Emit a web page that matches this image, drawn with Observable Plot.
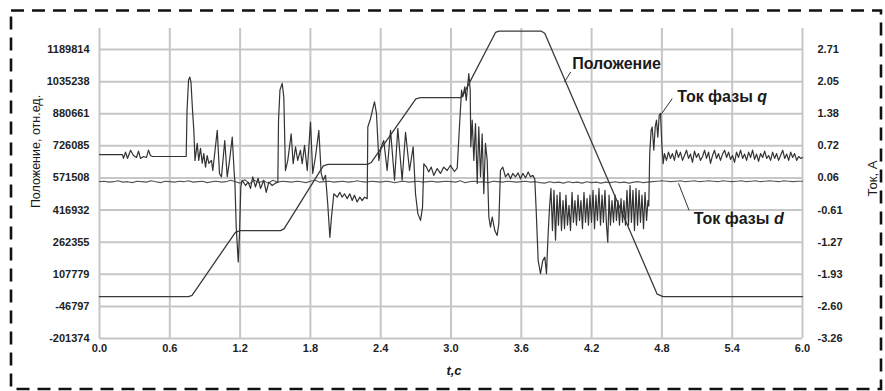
<!DOCTYPE html>
<html><head><meta charset="utf-8">
<script src="https://cdn.jsdelivr.net/npm/d3@7"></script>
<script src="https://cdn.jsdelivr.net/npm/@observablehq/plot@0.6"></script>
<style>
html,body{margin:0;padding:0;background:#fff;}
#wrap{position:relative;width:885px;height:391px;overflow:hidden;}
#wrap svg{position:absolute;left:0;top:0;}
</style></head><body><div id="wrap"></div>
<script>
// ---- tick values & labels ----
const xTicks = [0, 0.6, 1.2, 1.8, 2.4, 3.0, 3.6, 4.2, 4.8, 5.4, 6.0];
const xTickLabels = ["0.0","0.6","1.2","1.8","2.4","3.0","3.6","4.2","4.8","5.4","6.0"];
const posTicks = [-201374, -46797, 107779, 262355, 416932, 571508, 726085, 880661, 1035238, 1189814];
const curTicks = [-3.26, -2.60, -1.93, -1.27, -0.61, 0.06, 0.72, 1.38, 2.05, 2.71];
const curTickLabels = ["-3.26","-2.60","-1.93","-1.27","-0.61","0.06","0.72","1.38","2.05","2.71"];
const posMax = 1291000; // top of the plotting area (left axis units)

// ---- Положение (position), [t, value] ----
const position = [[0,0],[0.76,0],[0.79,6000],[1.16,310000],[1.20,318000],[1.545,318000],[1.575,326000],
  [1.91,630000],[1.95,637000],[2.287,637000],[2.32,646000],[2.70,952000],[2.74,958000],[3.081,958000],
  [3.10,968000],[3.38,1272000],[3.41,1278000],[3.772,1278000],[3.80,1268000],[4.76,12000],[4.81,0],[6.0,0]];

// ---- Ток фазы q, [t, A] ----
const currentQ = [
 [0,0.54],[0.196,0.54],[0.205,0.46],[0.222,0.59],[0.239,0.46],[0.265,0.63],[0.290,0.52],[0.316,0.48],[0.333,0.61],[0.350,0.46],[0.376,0.50],[0.401,0.48],[0.418,0.63],[0.435,0.52],[0.452,0.50],[0.740,0.50],
 [0.747,1.45],[0.760,2.08],[0.771,2.14],[0.781,2.03],[0.794,1.45],[0.805,1.04],[0.815,0.42],[0.834,0.77],[0.847,0.42],[0.862,0.67],[0.877,0.36],[0.890,0.56],[0.905,0.28],[0.919,0.52],[0.933,0.36],[0.956,0.42],[0.967,0.21],[1.005,1.04],[1.024,0.15],[1.041,0.08],[1.069,0.83],[1.090,0.08],[1.110,0.42],[1.133,0.90],[1.150,0.15],[1.155,0.01],[1.167,-0.96],[1.184,-1.68],[1.195,-1.09],[1.206,-0.13],[1.218,0.01],[1.246,-0.10],[1.269,-0.03],[1.289,-0.16],[1.308,0.08],[1.331,-0.13],[1.354,0.05],[1.374,-0.16],[1.402,0.01],[1.423,-0.24],[1.445,-0.03],[1.474,-0.10],[1.502,-0.05],[1.522,-0.03],
 [1.528,1.25],[1.540,1.87],[1.559,2.01],[1.573,1.73],[1.587,0.21],[1.607,0.42],[1.636,0.97],[1.653,0.35],[1.673,0.70],[1.692,0.42],[1.715,0.63],[1.730,0.35],[1.750,0.73],[1.773,0.21],[1.801,1.21],[1.820,0.15],[1.843,0.49],[1.872,1.04],[1.892,0.15],[1.909,0.01],[1.929,0.11],[1.948,-0.48],[1.966,-1.17],[1.980,-0.75],[2.000,-0.27],[2.029,-0.34],[2.051,-0.24],[2.071,-0.34],[2.091,-0.27],[2.114,-0.37],[2.136,-0.27],[2.157,-0.41],[2.176,-0.30],[2.199,-0.44],[2.222,-0.34],[2.242,-0.41],[2.262,-0.34],[2.285,-0.37],
 [2.290,1.11],[2.313,1.28],[2.336,1.52],[2.347,1.63],[2.364,1.39],[2.384,0.42],[2.404,0.70],[2.426,0.83],[2.455,0.21],[2.484,1.04],[2.518,0.01],[2.546,1.08],[2.583,0.01],[2.612,1.00],[2.646,0.21],[2.677,0.70],[2.697,-0.27],[2.717,-0.68],[2.740,-0.82],[2.757,-0.55],[2.768,0.35],[2.791,0.28],[2.810,0.18],[2.831,0.28],[2.853,0.11],[2.882,0.25],[2.910,0.15],[2.938,0.28],[2.967,0.21],[2.996,0.32],[3.004,0.28],[3.030,0.19],[3.053,0.26],
 [3.072,1.11],[3.090,1.87],[3.101,1.73],[3.118,1.94],[3.130,1.66],[3.152,2.21],[3.164,1.87],[3.169,0.70],[3.181,1.25],[3.195,0.42],[3.209,1.18],[3.224,-0.06],[3.237,1.11],[3.252,0.08],[3.266,0.97],[3.280,-0.27],[3.294,0.77],[3.309,0.42],[3.323,-0.75],[3.337,-0.96],[3.352,-0.75],[3.374,-1.03],[3.394,-1.13],[3.408,-0.89],[3.422,0.21],[3.442,0.28],[3.465,0.08],[3.488,0.15],[3.508,0.04],[3.527,0.15],[3.550,0.08],[3.573,0.16],[3.593,0.04],[3.613,0.15],[3.636,0.06],[3.659,0.18],[3.678,0.08],[3.698,0.11],[3.715,0.04],
 [3.727,-0.61],[3.744,-1.65],[3.764,-1.92],[3.783,-1.65],[3.801,-1.58],[3.815,-1.92],[3.829,-1.10],[3.841,-0.55],
 [3.853,-0.16],[3.866,-1.03],[3.879,-0.20],[3.892,-1.23],[3.905,-0.30],[3.917,-0.92],[3.930,-0.24],[3.943,-1.03],[3.956,-0.41],[3.969,-0.99],[3.981,-0.30],[3.994,-0.92],[4.007,-0.51],[4.020,-1.03],[4.033,-0.24],[4.045,-0.86],[4.058,-0.41],[4.071,-0.92],[4.084,-0.30],[4.097,-0.82],[4.109,-0.41],[4.122,-0.99],[4.135,-0.24],[4.148,-0.86],[4.161,-0.37],[4.173,-0.92],[4.186,-0.30],[4.199,-0.86],[4.212,-0.20],[4.225,-0.99],[4.237,-0.30],[4.250,-0.82],[4.263,-0.16],[4.276,-0.92],[4.289,-0.30],[4.301,-0.86],[4.314,-0.20],[4.327,-0.92],[4.338,-1.27],[4.349,-0.30],[4.361,-0.92],[4.374,-0.41],[4.387,-0.86],[4.400,-0.30],[4.412,-0.82],[4.425,-0.41],[4.438,-0.92],[4.451,-0.37],[4.464,-0.86],[4.476,-0.41],[4.489,-0.92],[4.502,-0.20],[4.515,-0.92],[4.528,-0.10],[4.540,-0.86],[4.553,-0.20],[4.566,-1.03],[4.579,-0.16],[4.592,-0.92],[4.605,-0.20],[4.617,-0.86],[4.630,-0.30],[4.643,-0.99],[4.656,-0.24],[4.669,-0.82],[4.681,-0.41],[4.688,-0.52],
 [4.696,0.56],[4.708,1.04],[4.717,1.11],[4.731,0.63],[4.743,1.11],[4.754,1.25],[4.765,0.90],[4.777,1.35],[4.788,1.39],[4.799,0.77],[4.811,0.35],[4.822,0.56],
 [4.839,0.42],[4.856,0.59],[4.873,0.46],[4.890,0.56],[4.907,0.42],[4.924,0.63],[4.941,0.48],[4.958,0.59],[4.976,0.42],[4.993,0.52],[5.010,0.63],[5.027,0.46],[5.044,0.55],[5.061,0.38],[5.078,0.61],[5.095,0.48],[5.112,0.56],[5.129,0.42],[5.147,0.50],[5.164,0.63],[5.181,0.46],[5.198,0.59],[5.215,0.36],[5.232,0.52],[5.249,0.63],[5.266,0.46],[5.283,0.56],[5.300,0.42],[5.318,0.55],[5.335,0.63],[5.352,0.48],[5.369,0.59],[5.386,0.44],[5.403,0.52],[5.420,0.38],[5.437,0.59],[5.454,0.48],[5.471,0.63],[5.489,0.46],[5.506,0.55],[5.523,0.42],[5.540,0.59],[5.557,0.48],[5.574,0.63],[5.591,0.44],[5.608,0.55],[5.625,0.40],[5.642,0.56],[5.660,0.48],[5.677,0.61],[5.694,0.46],[5.711,0.52],[5.728,0.42],[5.745,0.59],[5.762,0.46],[5.779,0.56],[5.796,0.42],[5.813,0.52],[5.831,0.63],[5.848,0.46],[5.865,0.55],[5.882,0.42],[5.899,0.59],[5.916,0.48],[5.933,0.56],[5.950,0.42],[5.967,0.50],[5.984,0.46],[6.000,0.48]
];

// ---- Ток фазы d, A, sampled every dStep seconds from t = 0 ----
const dStep = 0.04;
const currentD = [
 -0.02,-0.01,-0.03,-0.02,0.00,-0.03,-0.02,-0.04,-0.01,-0.02,
 -0.03,0.00,-0.02,-0.04,-0.01,-0.02,-0.03,-0.01,-0.02,0.00,
 -0.03,-0.02,-0.01,-0.04,-0.02,-0.01,-0.03,-0.02,0.01,-0.02,
 -0.05,0.02,-0.06,0.01,-0.04,0.00,-0.05,0.01,-0.03,-0.01,
 -0.02,-0.03,-0.01,-0.02,-0.04,-0.01,0.01,-0.03,-0.02,-0.01,
 -0.03,-0.02,-0.01,-0.03,-0.02,0.00,-0.02,-0.03,-0.01,-0.02,
 -0.03,-0.01,-0.02,-0.04,-0.02,-0.01,-0.03,-0.02,-0.01,-0.03,
 -0.02,-0.01,-0.03,-0.02,-0.01,-0.02,-0.03,0.00,-0.04,-0.02,
 -0.01,-0.03,-0.02,-0.04,-0.01,-0.02,-0.03,-0.01,-0.02,-0.03,
 -0.02,-0.01,-0.03,-0.02,-0.04,-0.05,-0.02,-0.04,-0.03,-0.05,
 -0.02,-0.04,-0.03,-0.05,-0.02,-0.04,-0.03,-0.05,-0.03,-0.04,
 -0.02,-0.04,-0.03,-0.05,-0.03,-0.02,-0.04,-0.03,-0.02,-0.01,
 0.00,-0.01,-0.02,-0.01,0.00,-0.02,-0.01,0.00,-0.02,-0.01,
 0.00,-0.01,-0.02,0.00,-0.01,-0.02,-0.01,0.00,-0.02,-0.01,
 0.00,-0.02,-0.01,0.00,-0.01,-0.02,0.00,-0.01,-0.02,-0.01,
 -0.01
];

// ---- annotations ----
const annotations = [
  {label: "Положение", t: 4.034, value: 1122760, unit: "pos"},
  {label: "Ток фазы q", t: 4.930, value: 1.731, unit: "cur"},
  {label: "Ток фазы d", t: 5.072, value: -0.779, unit: "cur"}
];
const leaders = [
  {t1: 4.022, v1: 1081800, t2: 3.969, v2: 1033600, unit: "pos"},
  {t1: 4.888, v1: 1.696, t2: 4.788, v2: 1.351, unit: "cur"},
  {t1: 5.032, v1: -0.613, t2: 4.942, v2: -0.055, unit: "cur"}
];

// map right-axis (current) units onto left-axis (position) units, using the paired tick lists
const posStep = (posTicks[posTicks.length-1] - posTicks[0]) / (posTicks.length-1);
const curStep = (curTicks[curTicks.length-1] - curTicks[0]) / (curTicks.length-1);
const toPos = (a) => posTicks[0] + (a - curTicks[0]) / curStep * posStep;
const conv = (v, unit) => unit === "cur" ? toPos(v) : v;

const xLabelMap = new Map(xTicks.map((d, i) => [d, xTickLabels[i]]));
const rightLabelMap = new Map(posTicks.map((d, i) => [d, curTickLabels[i]]));
const dSeries = currentD.map((v, i) => [i * dStep, v]);

const FONT = "'Liberation Sans', Arial, Helvetica, sans-serif";
const chart = Plot.plot({
  width: 885, height: 391,
  marginLeft: 99, marginRight: 83, marginTop: 28, marginBottom: 53,
  style: {fontFamily: FONT, fontSize: "11px", fontWeight: "bold", color: "#222", background: "transparent", overflow: "visible"},
  x: {domain: [0, 6]},
  y: {domain: [posTicks[0], posMax]},
  marks: [
    Plot.ruleY(posTicks, {stroke: "#c6c6c6", strokeWidth: 2}),
    Plot.ruleX(xTicks, {stroke: "#c6c6c6", strokeWidth: 2}),
    Plot.axisX(xTicks, {tickSize: 0, tickPadding: 6, tickFormat: d => xLabelMap.get(d), label: null, fill: "#222"}),
    Plot.axisY(posTicks, {anchor: "left", tickSize: 0, tickPadding: 10, tickFormat: d => String(d), label: null, fill: "#222"}),
    Plot.axisY(posTicks, {anchor: "right", tickSize: 0, tickPadding: 15, tickFormat: d => rightLabelMap.get(d), label: null, textAnchor: "start", fill: "#222"}),
    Plot.line(dSeries, {x: d => d[0], y: d => toPos(d[1]), stroke: "#555", strokeWidth: 1.1}),
    Plot.line(position, {x: d => d[0], y: d => d[1], stroke: "#3a3a3a", strokeWidth: 1.3}),
    Plot.line(currentQ, {x: d => d[0], y: d => toPos(d[1]), stroke: "#333", strokeWidth: 1.2}),
    Plot.link(leaders, {x1: "t1", y1: d => conv(d.v1, d.unit), x2: "t2", y2: d => conv(d.v2, d.unit), stroke: "#333", strokeWidth: 1}),
    Plot.text(annotations, {x: "t", y: d => conv(d.value, d.unit), text: "label", textAnchor: "start", fontSize: 16, fontWeight: "bold", fill: "#1a1a1a"}),
    Plot.text(["Положение, отн.ед."], {frameAnchor: "left", textAnchor: "middle", lineAnchor: "middle", rotate: -90, dx: -64, dy: -32, fontSize: 12.5, fontWeight: "normal", fill: "#1a1a1a"}),
    Plot.text(["Ток, А"], {frameAnchor: "right", textAnchor: "middle", lineAnchor: "middle", rotate: -90, dx: 70, dy: -5, fontSize: 13, fontWeight: "normal", fill: "#1a1a1a"}),
    Plot.text(["t,c"], {frameAnchor: "bottom", textAnchor: "middle", dx: 3, dy: 36, fontSize: 13, fontWeight: "bold", fontStyle: "italic", fill: "#1a1a1a"})
  ]
});
const wrap = document.getElementById("wrap");
wrap.appendChild(chart);

// italic variable letters in labels
chart.querySelectorAll("text").forEach(t => {
  if (t.textContent === "Ток фазы q") t.innerHTML = 'Ток фазы <tspan font-style="italic">q</tspan>';
  if (t.textContent === "Ток фазы d") t.innerHTML = 'Ток фазы <tspan font-style="italic">d</tspan>';
});

// dashed outer frame
const ns = "http://www.w3.org/2000/svg";
const frame = document.createElementNS(ns, "svg");
frame.setAttribute("width", 885); frame.setAttribute("height", 391);
const r = document.createElementNS(ns, "rect");
r.setAttribute("x", 11); r.setAttribute("y", 10.5); r.setAttribute("width", 870); r.setAttribute("height", 378.5);
r.setAttribute("fill", "none"); r.setAttribute("stroke", "#111"); r.setAttribute("stroke-width", 2.6);
r.setAttribute("stroke-dasharray", "13 8");
frame.appendChild(r);
wrap.appendChild(frame);
</script></body></html>
